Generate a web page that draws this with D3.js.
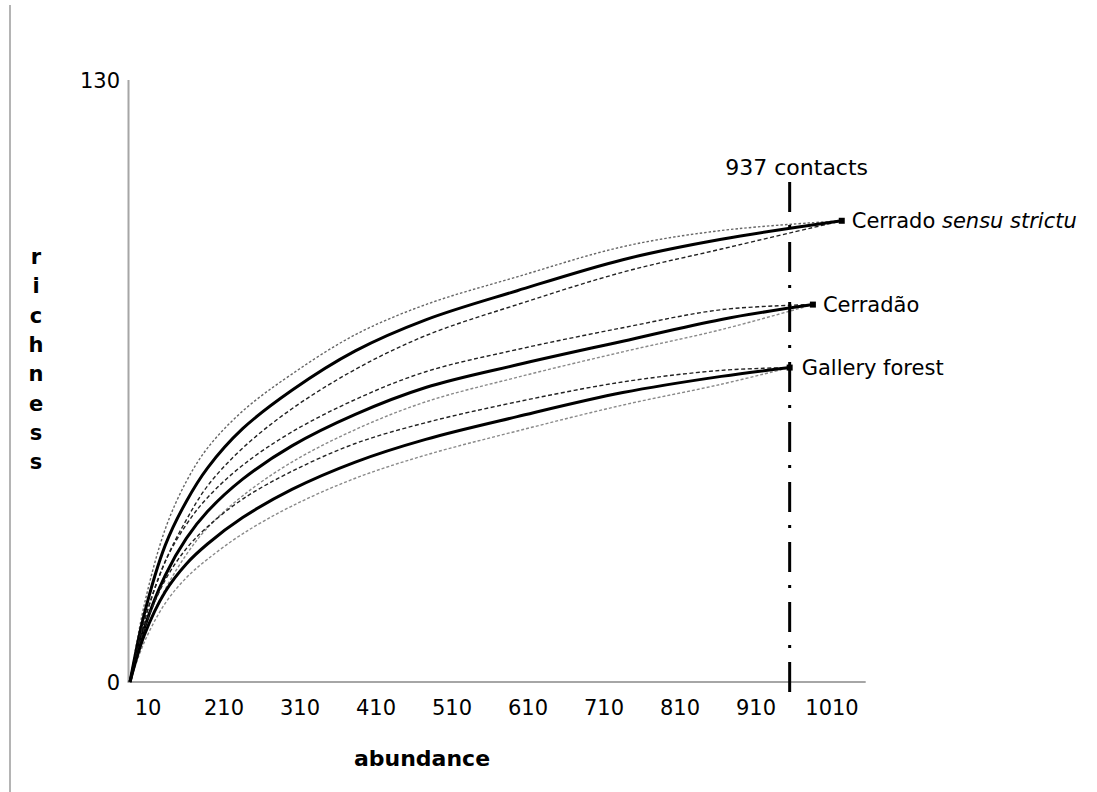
<!DOCTYPE html>
<html>
<head>
<meta charset="utf-8">
<script src="https://cdn.jsdelivr.net/npm/d3@7"></script>
<style>
  body { margin: 0; background: #fff; }
  text { font-family: "DejaVu Sans", Verdana, sans-serif; fill: #000; }
</style>
</head>
<body>
<svg id="chart"></svg>
<script>
// category labels printed under the x axis
var xTickLabels = ["10", "210", "310", "410", "510", "610", "710", "810", "910", "1010"]
var yTicks = [0, 130]

// rarefaction curves (abundance -> richness)
var abundanceS = [0, 20, 50, 80, 110, 160, 230, 320, 420, 550, 700, 840, 1011]
var richS      = [0, 14.5, 29.5, 39, 46.2, 54.7, 63, 71.5, 78.2, 84.5, 91.2, 95.6, 99.6]
var upperS     = [0, 16.5, 33, 43.3, 50.5, 58.5, 66.5, 75, 81.5, 87.5, 94, 97.5, 99.6]
var lowerS     = [0, 13, 26, 35, 42.3, 50.5, 59, 67.5, 74.8, 81.5, 88.5, 93.5, 99.6]

var abundanceC = [0, 20, 50, 80, 110, 160, 230, 320, 420, 550, 700, 840, 970]
var richC      = [0, 11.5, 23, 31, 36.8, 43.8, 51, 57.8, 63.6, 68.5, 73.6, 78.3, 81.5]
var upperC     = [0, 13, 26, 34, 39.8, 46.8, 54, 61, 67, 71.8, 76.5, 80.4, 81.5]
var lowerC     = [0, 10, 20, 27.5, 33.3, 40.2, 47.5, 54.5, 60.5, 65.8, 71.3, 76.1, 81.5]

var abundanceG = [0, 20, 50, 80, 110, 160, 230, 320, 420, 550, 700, 840, 937]
var richG      = [0, 10, 19.5, 25.5, 29.8, 35.5, 41.6, 47.5, 52.4, 57.3, 62.5, 66, 67.9]
var upperG     = [0, 11.5, 22, 28.8, 33.5, 39.5, 45.5, 51.5, 56, 60.5, 64.8, 67.3, 67.9]
var lowerG     = [0, 8.5, 17, 22.5, 26.5, 32, 38, 44, 49, 54.2, 59.8, 64.3, 67.9]

var seriesNames = ["Cerrado", "Cerradão", "Gallery forest"]
var contacts = 937

var width = 1097, height = 792

var svg = d3.select("#chart")
    .attr("width", width)
    .attr("height", height)

// frame line on the left edge
svg.append("line")
    .attr("x1", 10).attr("x2", 10)
    .attr("y1", 5).attr("y2", height)
    .attr("stroke", "#b4b4b4")
    .attr("stroke-width", 2)

var x = d3.scaleLinear().domain([0, 1045]).range([130, 865.7])
var y = d3.scaleLinear().domain([0, 130]).range([682, 80])
var xCat = d3.scalePoint().domain(xTickLabels).range([148, 832])

// axes
svg.append("line")
    .attr("x1", 128.5).attr("x2", 128.5)
    .attr("y1", y(130)).attr("y2", y(0))
    .attr("stroke", "#a6a6a6").attr("stroke-width", 2)

svg.append("line")
    .attr("x1", 127.5).attr("x2", x(1045))
    .attr("y1", y(0)).attr("y2", y(0))
    .attr("stroke", "#a6a6a6").attr("stroke-width", 2)

svg.append("g")
    .selectAll("text")
    .data(yTicks)
    .enter().append("text")
    .attr("x", 120)
    .attr("y", d => y(d))
    .attr("dy", "0.36em")
    .attr("text-anchor", "end")
    .style("font-size", "21px")
    .text(d => d)

svg.append("g")
    .selectAll("text")
    .data(xTickLabels)
    .enter().append("text")
    .attr("x", d => xCat(d))
    .attr("y", 715)
    .attr("text-anchor", "middle")
    .style("font-size", "21px")
    .text(d => d)

// axis titles
svg.append("text")
    .attr("x", 422)
    .attr("y", 766)
    .attr("text-anchor", "middle")
    .style("font-size", "22px")
    .style("font-weight", "bold")
    .text("abundance")

svg.append("g")
    .selectAll("text")
    .data("richness".split(""))
    .enter().append("text")
    .attr("x", 36)
    .attr("y", (d, i) => 264 + i * 29.3)
    .attr("text-anchor", "middle")
    .style("font-size", "21px")
    .style("font-weight", "bold")
    .text(d => d)

// curves
var line = d3.line()
    .x(d => x(d[0]))
    .y(d => y(d[1]))
    .curve(d3.curveCatmullRom.alpha(0.5))

var series = [
    {ab: abundanceS, mid: richS, up: upperS, lo: lowerS},
    {ab: abundanceC, mid: richC, up: upperC, lo: lowerC},
    {ab: abundanceG, mid: richG, up: upperG, lo: lowerG}
]

var gCurves = svg.append("g")

series.forEach(function(s, k) {
    var up = s.ab.map((a, i) => [a, s.up[i]])
    var lo = s.ab.map((a, i) => [a, s.lo[i]])
    var mid = s.ab.map((a, i) => [a, s.mid[i]])

    gCurves.append("path")
        .attr("d", line(up))
        .attr("fill", "none")
        .attr("stroke", k == 0 ? "#666" : "#222")
        .attr("stroke-width", 1.4)
        .attr("stroke-dasharray", k == 0 ? "2.5,2" : "4,2.5")

    gCurves.append("path")
        .attr("d", line(lo))
        .attr("fill", "none")
        .attr("stroke", k == 0 ? "#222" : "#8a8a8a")
        .attr("stroke-width", 1.4)
        .attr("stroke-dasharray", k == 0 ? "4,2.5" : "3,2")

    gCurves.append("path")
        .attr("d", line(mid))
        .attr("fill", "none")
        .attr("stroke", "#000")
        .attr("stroke-width", 3)

    var last = mid[mid.length - 1]
    gCurves.append("rect")
        .attr("x", x(last[0]) - 3)
        .attr("y", y(last[1]) - 3)
        .attr("width", 6)
        .attr("height", 6)
        .attr("fill", "#000")
})

// 937 contacts marker
svg.append("line")
    .attr("x1", x(contacts)).attr("x2", x(contacts))
    .attr("y1", 182).attr("y2", 697)
    .attr("stroke", "#000")
    .attr("stroke-width", 3)
    .attr("stroke-dasharray", "30,13,3,14")

svg.append("text")
    .attr("x", x(contacts) + 7)
    .attr("y", 175)
    .attr("text-anchor", "middle")
    .style("font-size", "22px")
    .text(contacts + " contacts")

// series labels at the curve ends
var lblS = svg.append("text")
    .attr("x", x(abundanceS[abundanceS.length - 1]) + 10)
    .attr("y", y(richS[richS.length - 1]))
    .attr("dy", "0.36em")
    .style("font-size", "21px")
lblS.append("tspan").text(seriesNames[0] + " ")
lblS.append("tspan").style("font-style", "italic").text("sensu strictu")

svg.append("text")
    .attr("x", x(abundanceC[abundanceC.length - 1]) + 10)
    .attr("y", y(richC[richC.length - 1]))
    .attr("dy", "0.36em")
    .style("font-size", "21px")
    .text(seriesNames[1])

svg.append("text")
    .attr("x", x(abundanceG[abundanceG.length - 1]) + 12)
    .attr("y", y(richG[richG.length - 1]))
    .attr("dy", "0.36em")
    .style("font-size", "21px")
    .text(seriesNames[2])
</script>
</body>
</html>
